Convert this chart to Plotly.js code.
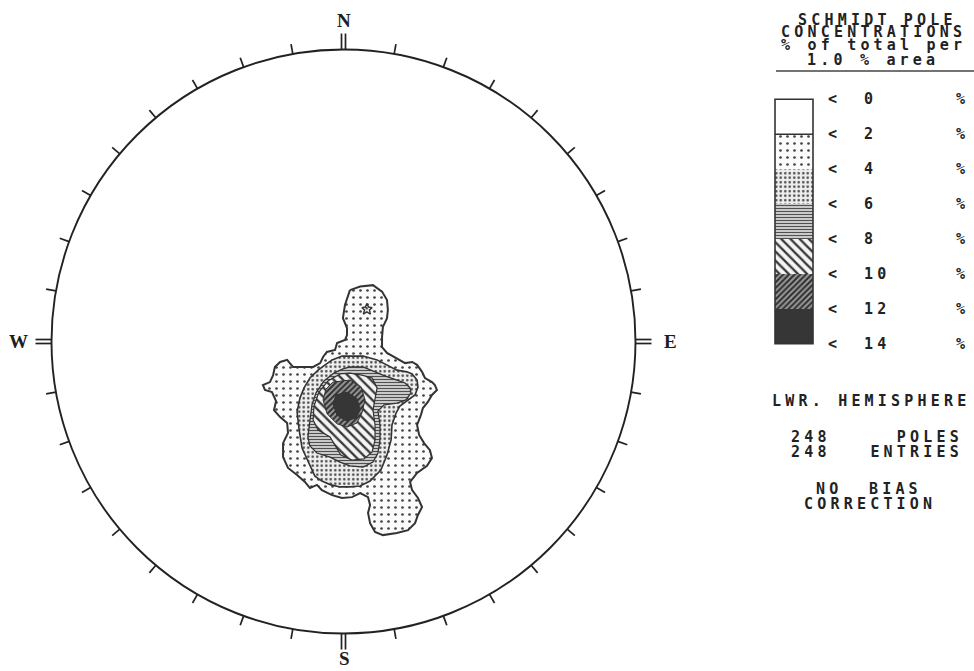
<!DOCTYPE html>
<html>
<head>
<meta charset="utf-8">
<script src="https://cdn.plot.ly/plotly-3.0.1.min.js"></script>
<style>
  html, body { margin: 0; padding: 0; background: #ffffff; }
  #chart { width: 974px; height: 671px; }
  .annotation-text { letter-spacing: 4.2px; }
</style>
</head>
<body>
<div id="chart"></div>
<script>
// ---------------- DATA (read from the reference stereonet, unit-circle coordinates) ----------------
// contour levels (% of total per 1.0 % area)
const contourLevels = [2, 4, 6, 8, 10, 12];
const legendLevels = [0, 2, 4, 6, 8, 10, 12, 14];

// >= 2 % contour (outer)
const c2x = [0.022,0.057,0.101,0.132,0.149,0.152,0.149,0.135,0.132,0.132,0.149,0.176,0.211,0.235,0.252,0.269,0.279,0.303,0.313,0.320,0.303,0.289,0.272,0.265,0.252,0.259,0.276,0.296,0.303,0.286,0.252,0.228,0.235,0.255,0.269,0.255,0.245,0.221,0.183,0.135,0.108,0.091,0.084,0.091,0.084,0.057,0.029,-0.005,-0.039,-0.074,-0.091,-0.115,-0.132,-0.159,-0.190,-0.207,-0.207,-0.190,-0.193,-0.217,-0.238,-0.231,-0.245,-0.269,-0.276,-0.252,-0.241,-0.235,-0.217,-0.193,-0.173,-0.142,-0.104,-0.080,-0.070,-0.057,-0.029,-0.022,0.005,0.012,0.012,-0.002,0.005];
const c2y = [0.176,0.188,0.193,0.171,0.142,0.108,0.080,0.050,0.015,-0.019,-0.039,-0.053,-0.074,-0.070,-0.080,-0.104,-0.125,-0.139,-0.149,-0.166,-0.183,-0.207,-0.228,-0.252,-0.286,-0.320,-0.348,-0.372,-0.399,-0.426,-0.450,-0.481,-0.509,-0.536,-0.567,-0.594,-0.622,-0.646,-0.656,-0.663,-0.652,-0.622,-0.587,-0.560,-0.533,-0.519,-0.533,-0.536,-0.526,-0.509,-0.491,-0.502,-0.481,-0.457,-0.433,-0.396,-0.348,-0.313,-0.279,-0.259,-0.235,-0.204,-0.173,-0.166,-0.149,-0.139,-0.115,-0.087,-0.070,-0.063,-0.087,-0.087,-0.087,-0.074,-0.053,-0.036,-0.029,-0.005,0.005,0.022,0.046,0.080,0.125];

// >= 4 % contour
const c4x = [0.022,0.067,0.115,0.149,0.183,0.217,0.235,0.252,0.255,0.245,0.221,0.193,0.180,0.166,0.163,0.149,0.128,0.091,0.057,0.022,-0.012,-0.043,-0.074,-0.098,-0.111,-0.125,-0.142,-0.152,-0.159,-0.149,-0.135,-0.115,-0.087,-0.063,-0.039,-0.005];
const c4y = [-0.050,-0.050,-0.063,-0.080,-0.098,-0.104,-0.111,-0.132,-0.156,-0.183,-0.200,-0.221,-0.245,-0.286,-0.337,-0.389,-0.440,-0.478,-0.495,-0.498,-0.498,-0.491,-0.478,-0.461,-0.433,-0.402,-0.365,-0.303,-0.241,-0.193,-0.159,-0.125,-0.098,-0.080,-0.063,-0.050];
// small isolated >= 4 % patch in the northern lobe
const c4bx = [0.080,0.086,0.098,0.089,0.092,0.080,0.068,0.072,0.063,0.075];
const c4by = [0.130,0.118,0.116,0.108,0.094,0.101,0.094,0.108,0.116,0.118];

// >= 6 % contour
const c6x = [-0.002,0.022,0.067,0.101,0.135,0.183,0.211,0.228,0.231,0.214,0.183,0.139,0.118,0.125,0.125,0.118,0.101,0.067,0.022,-0.012,-0.046,-0.091,-0.115,-0.122,-0.115,-0.108,-0.094,-0.067,-0.033];
const c6y = [-0.094,-0.087,-0.087,-0.101,-0.115,-0.132,-0.142,-0.159,-0.176,-0.200,-0.211,-0.217,-0.238,-0.286,-0.337,-0.382,-0.413,-0.430,-0.426,-0.413,-0.396,-0.382,-0.358,-0.327,-0.269,-0.217,-0.176,-0.135,-0.108];

// >= 8 % contour
const c8x = [-0.012,0.022,0.063,0.098,0.115,0.108,0.101,0.108,0.108,0.098,0.070,0.029,-0.009,-0.026,-0.046,-0.087,-0.104,-0.101,-0.084,-0.053];
const c8y = [-0.111,-0.108,-0.115,-0.125,-0.159,-0.200,-0.235,-0.286,-0.337,-0.378,-0.402,-0.406,-0.389,-0.361,-0.327,-0.303,-0.269,-0.221,-0.173,-0.135];

// >= 10 % contour
const c10x = [-0.036,0.022,0.060,0.074,0.063,0.046,0.012,-0.022,-0.056,-0.070,-0.060];
const c10y = [-0.139,-0.132,-0.156,-0.200,-0.245,-0.279,-0.293,-0.282,-0.248,-0.200,-0.163];

// >= 12 % contour (maximum)
const c12x = [-0.026,0.012,0.046,0.057,0.043,0.008,-0.022,-0.036];
const c12y = [-0.183,-0.173,-0.195,-0.235,-0.262,-0.272,-0.252,-0.215];

// azimuths of the 10-degree ticks on the primitive circle
const tickAz = [10,20,30,40,50,60,70,80,100,110,120,130,140,150,160,170,190,200,210,220,230,240,250,260,280,290,300,310,320,330,340,350];
const cardinalAz = [0, 90, 180, 270];
const cardinalLabels = ['N', 'E', 'S', 'W'];

const nPoles = 248;
const nEntries = 248;

// ---------------- LAYOUT CONSTANTS ----------------
const W = 974, H = 671;
const CX = 343.5, CY = 341.5, R = 292;      // net centre and radius in page pixels
const px2x = p => (p - CX) / R;
const px2y = p => (CY - p) / R;

// fill styles, one per band (0-2, 2-4, 4-6, 6-8, 8-10, 10-12, 12-14)
const bandStyles = [
  { fill: '#ffffff' },
  { fill: '#ffffff', pattern: { shape: '.', size: 7, solidity: 0.12, fgcolor: '#444444', bgcolor: '#fbfbfb' } },
  { fill: '#ffffff', pattern: { shape: '.', size: 4.5, solidity: 0.24, fgcolor: '#4a4a4a', bgcolor: '#eeeeee' } },
  { fill: '#e0e0e0', pattern: { shape: '-', size: 3, solidity: 0.45, fgcolor: '#505050', bgcolor: '#e2e2e2' } },
  { fill: '#ffffff', pattern: { shape: '\\', size: 6.5, solidity: 0.36, fgcolor: '#3a3a3a', bgcolor: '#f4f4f4' } },
  { fill: '#999999', pattern: { shape: '/', size: 4, solidity: 0.5, fgcolor: '#2e2e2e', bgcolor: '#9a9a9a' } },
  { fill: '#363636' }
];

function polyTrace(xs, ys, style, lw) {
  const t = {
    type: 'scatter', mode: 'lines',
    x: xs.concat([xs[0]]), y: ys.concat([ys[0]]),
    fill: 'toself', fillcolor: style.fill,
    line: { color: '#333333', width: lw },
    hoverinfo: 'skip', showlegend: false
  };
  if (style.pattern) t.fillpattern = style.pattern;
  return t;
}

const traces = [];
// contours, outer to inner
const contours = [[c2x, c2y, 2.0], [c4x, c4y, 1.6], [c6x, c6y, 1.3], [c8x, c8y, 1.2], [c10x, c10y, 1.0], [c12x, c12y, 1.0]];
contours.forEach((c, i) => traces.push(polyTrace(c[0], c[1], bandStyles[i + 1], c[2])));
traces.push(polyTrace(c4bx, c4by, bandStyles[2], 1.4));

// ticks on the primitive
const tx = [], ty = [];
const tickLen = 10 / R;
tickAz.forEach(a => {
  const r = a * Math.PI / 180;
  tx.push(Math.sin(r), Math.sin(r) * (1 + tickLen), null);
  ty.push(Math.cos(r), Math.cos(r) * (1 + tickLen), null);
});
traces.push({ type: 'scatter', mode: 'lines', x: tx, y: ty, line: { color: '#222', width: 1.7 }, hoverinfo: 'skip', showlegend: false });

// double cardinal ticks
const kx = [], ky = [];
const cLen = 16 / R, off = 2 / R;
cardinalAz.forEach(a => {
  const r = a * Math.PI / 180;
  const ux = Math.sin(r), uy = Math.cos(r);
  const px = Math.cos(r), py = -Math.sin(r);
  [-off, off].forEach(o => {
    kx.push(ux + px * o, ux * (1 + cLen) + px * o, null);
    ky.push(uy + py * o, uy * (1 + cLen) + py * o, null);
  });
});
traces.push({ type: 'scatter', mode: 'lines', x: kx, y: ky, line: { color: '#222', width: 1.7 }, hoverinfo: 'skip', showlegend: false });

// legend bands
const legX0 = 775, legX1 = 813, legTop = 99.3, bandH = 34.93;
for (let i = 0; i < legendLevels.length - 1; i++) {
  const y0 = legTop + i * bandH, y1 = y0 + bandH;
  traces.push(polyTrace([px2x(legX0), px2x(legX1), px2x(legX1), px2x(legX0)],
                        [px2y(y0), px2y(y0), px2y(y1), px2y(y1)], bandStyles[i], 0));
}

const shapes = [
  { type: 'circle', xref: 'x', yref: 'y', x0: -1, x1: 1, y0: -1, y1: 1, line: { color: '#222', width: 1.9 } },
  { type: 'rect', xref: 'x', yref: 'y', x0: px2x(legX0), x1: px2x(legX1), y0: px2y(legTop), y1: px2y(legTop + 7 * bandH), line: { color: '#333', width: 1.6 } },
  { type: 'line', xref: 'x', yref: 'y', x0: px2x(legX0), x1: px2x(legX1), y0: px2y(legTop + bandH), y1: px2y(legTop + bandH), line: { color: '#333', width: 1.5 } },
  { type: 'line', xref: 'x', yref: 'y', x0: px2x(776), x1: px2x(974), y0: px2y(71), y1: px2y(71), line: { color: '#444', width: 1.6 } }
];

const mono = { family: 'DejaVu Sans Mono', size: 15, color: '#222222', weight: 700 };
const serif = { family: 'Liberation Serif', size: 19, color: '#1e1e1e', weight: 700 };
function ann(text, px, py, xanchor, font) {
  return { text: text, xref: 'x', yref: 'y', x: px2x(px), y: px2y(py), xanchor: xanchor || 'center', yanchor: 'middle',
           showarrow: false, font: font || mono };
}
const annotations = [];
// cardinal labels
const cardPos = [[346, 20], [672, 341], [346, 658], [20, 341]];
cardinalLabels.forEach((t, i) => annotations.push(ann(t, cardPos[i][0], cardPos[i][1], 'center', serif)));
// legend title
annotations.push(ann('SCHMIDT POLE', 877, 20));
annotations.push(ann('CONCENTRATIONS', 873, 32));
annotations.push(ann('% of total per', 873, 45));
annotations.push(ann('1.0 % area', 873, 60));
// legend labels
legendLevels.forEach((v, i) => {
  const y = legTop + i * bandH;
  annotations.push(ann('<', 834, y));
  annotations.push(ann(String(v), 862, y, 'left'));
  annotations.push(ann('%', 962, y));
});
const nb = n => '\u00A0'.repeat(n);
annotations.push(ann('LWR. HEMISPHERE', 871, 401));
annotations.push(ann(nPoles + nb(5) + 'POLES', 789, 437, 'left'));
annotations.push(ann(nEntries + nb(3) + 'ENTRIES', 789, 452, 'left'));
annotations.push(ann('NO' + nb(2) + 'BIAS', 869, 489));
annotations.push(ann('CORRECTION', 870, 504));

const layout = {
  width: W, height: H,
  margin: { l: 0, r: 0, t: 0, b: 0, pad: 0 },
  paper_bgcolor: '#ffffff', plot_bgcolor: '#ffffff',
  showlegend: false,
  xaxis: { range: [px2x(0), px2x(W)], visible: false, fixedrange: true },
  yaxis: { range: [px2y(H), px2y(0)], visible: false, fixedrange: true },
  shapes: shapes,
  annotations: annotations
};

Plotly.newPlot('chart', traces, layout, { staticPlot: true, displayModeBar: false });
</script>
</body>
</html>
